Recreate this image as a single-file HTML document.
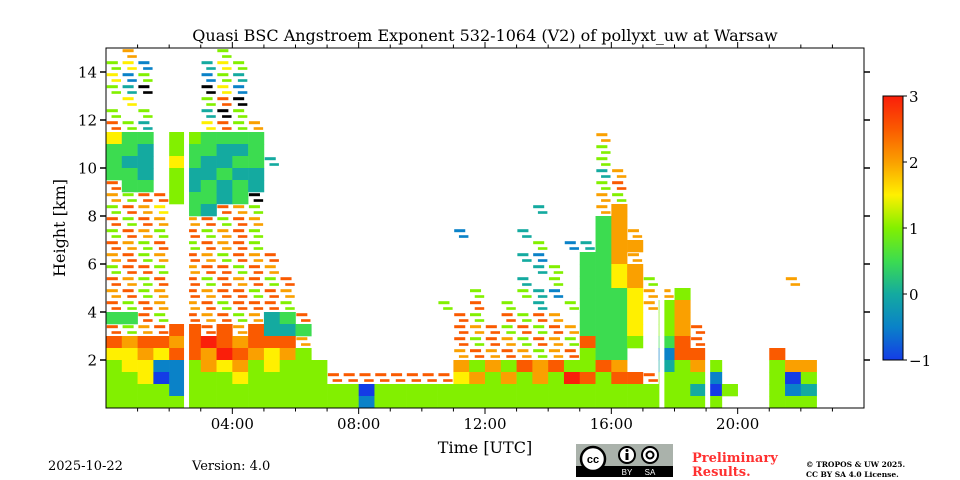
<!DOCTYPE html>
<html><head><meta charset="utf-8"><style>
body{margin:0;background:#fff;width:960px;height:480px;overflow:hidden}
svg{display:block}
text{font-family:"DejaVu Serif","Liberation Serif",serif;fill:#000}
</style></head><body>
<svg id="chart" width="960" height="480" viewBox="0 0 960 480">
<defs>
<linearGradient id="cmap" x1="0" y1="1" x2="0" y2="0">
<stop offset="0" stop-color="#143ce6"/><stop offset="0.125" stop-color="#0a82c8"/>
<stop offset="0.25" stop-color="#14aaa0"/><stop offset="0.375" stop-color="#3cdc50"/>
<stop offset="0.5" stop-color="#82f000"/><stop offset="0.625" stop-color="#fff000"/>
<stop offset="0.75" stop-color="#faa000"/><stop offset="0.875" stop-color="#fa5a00"/>
<stop offset="1" stop-color="#fa1e0a"/>
</linearGradient>
</defs>
<text x="485" y="41" font-size="16" text-anchor="middle">Quasi BSC Angstroem Exponent 532-1064 (V2) of pollyxt_uw at Warsaw</text>
<g id="cells"></g>
<g id="axes"></g>
<rect x="106" y="48" width="758" height="360" fill="none" stroke="#000" stroke-width="1"/>
<text x="485" y="453" font-size="16" text-anchor="middle">Time [UTC]</text>
<text x="0" y="0" font-size="16" text-anchor="middle" transform="translate(65,228) rotate(-90)">Height [km]</text>
<rect x="883" y="96" width="20" height="264" fill="url(#cmap)" stroke="#000" stroke-width="1"/>
<g id="cbticks"></g>
<text x="48" y="470" font-size="13">2025-10-22</text>
<text x="192" y="470" font-size="13">Version: 4.0</text>
<g>
<rect x="576" y="444" width="97" height="33" fill="#aab2ab"/>
<rect x="576" y="466" width="97" height="11" fill="#000"/>
<circle cx="593" cy="459" r="12" fill="#fff" stroke="#000" stroke-width="2.5"/>
<text x="593" y="463" font-size="11" font-weight="bold" text-anchor="middle" style="font-family:'Liberation Sans',sans-serif">cc</text>
<circle cx="627" cy="455" r="8" fill="#fff" stroke="#000" stroke-width="2"/>
<rect x="625.5" y="453" width="3" height="7" fill="#000"/><circle cx="627" cy="450.5" r="1.5" fill="#000"/>
<circle cx="650" cy="455" r="8" fill="#fff" stroke="#000" stroke-width="2"/>
<circle cx="650" cy="455" r="3.5" fill="none" stroke="#000" stroke-width="2"/>
<text x="627" y="475" font-size="8" fill="#fff" text-anchor="middle" style="fill:#fff;font-family:'Liberation Sans',sans-serif">BY</text>
<text x="650" y="475" font-size="8" text-anchor="middle" style="fill:#fff;font-family:'Liberation Sans',sans-serif">SA</text>
</g>
<text x="692" y="462" font-size="13" font-weight="bold" style="fill:#ff3030">Preliminary</text>
<text x="692" y="476" font-size="13" font-weight="bold" style="fill:#ff3030">Results.</text>
<text x="806" y="467" font-size="7.5" font-weight="bold">© TROPOS &amp; UW 2025.</text>
<text x="806" y="477" font-size="7.5" font-weight="bold">CC BY SA 4.0 License.</text>
</svg>
<script>
// grid: rows from top (14.5-15 km) to bottom (0-0.5 km); columns 0.5 h each from 00:00
const timeStep = 0.5;
const heightStep = 0.5;
const rows = [
".G...|..E..|.....|.....|.....|.....|.....|.....|.....",
"EFB..|.CFE.|.....|.....|.....|.....|.....|.....|.....",
"FBE..|.BEC.|.....|.....|.....|.....|.....|.....|.....",
"ECZ..|.ZFB.|.....|.....|.....|.....|.....|.....|.....",
".F...|.EHZ.|.....|.....|.....|.....|.....|.....|.....",
"E.E..|.CZE.|.....|.....|.....|.....|.....|.....|.....",
"HEC..|.FHEG|.....|.....|.....|.....|.....|.....|.....",
"fdd.e|edddd|.....|.....|.....|.....|.G...|.....|.....",
"ddc.e|ddccd|.....|.....|.....|.....|.E...|.....|.....",
"dcc.f|dccdd|C....|.....|.....|.....|.E...|.....|.....",
"ddc.e|ccdcc|.....|.....|.....|.....|.CG..|.....|.....",
"Hdd.e|cdcdc|.....|.....|.....|.....|.EH..|.....|.....",
"GEHHe|ddcdZ|.....|.....|.....|.....|.GE..|.....|.....",
"EHGF.|dcHGE|.....|.....|.....|..C..|.Gg..|.....|.....",
"HEHG.|GHEHG|.....|.....|.....|.....|.dg..|.....|.....",
"EHGE.|HEGHE|.....|.....|..B..|.C...|.dgG.|.....|.....",
"HGEH.|EHGHE|.....|.....|.....|..E.B|Cdgg.|.....|.....",
"GHEG.|HGEHG|H....|.....|.....|.CB..|ddgG.|.....|.....",
"EHHE.|GHHEH|G....|.....|.....|..CE.|ddfg.|.....|.....",
"HGEH.|HEHGH|EH...|.....|.....|.C.E.|ddfgE|.....|...G.",
"GHEG.|HGHHE|HG...|.....|...E.|.ECB.|dddfG|Ge...|.....",
"HEHG.|GHEHH|HE...|.....|.E.H.|E.C.E|dddfG|eg...|.....",
"ddHE.|HGHEG|cdH..|.....|..HE.|HEHG.|dddf.|eg...|.....",
"HEGHh|hHhGh|ccd..|.....|..HGH|EHEHG|dddf.|egH..|.....",
"hghhg|hihgh|hhG..|.....|..HEH|GEHGE|hdde.|dhH..|.....",
"ffgfh|hgihg|fge..|.....|..GHG|HGEGH|edd..|bhh..|..h..",
"effbb|egfge|feee.|.....|..geg|ehghe|ehg..|cege.|..egg",
"eefab|eeefe|eeeeH|HHHHH|HHfge|gegei|hehhH|eeeb.|..eae",
"eeeeb|eeeee|eeeee|eaeee|eeeee|eeeee|eeeee|eecae|..ebc",
"eeeee|eeeee|eeeee|ebeee|eeeee|eeeee|eeeee|eeee.|..eee"
];
const levelChars = ["z","a","b","c","d","e","f","g","h","i"];
const levelValues = [-1.5,-1,-0.5,0,0.5,1,1.5,2,2.5,3];
const gapTimes = [2.55, 17.6, 19.05];
const xTickHours = [4,8,12,16,20];
const xTickLabels = ["04:00","08:00","12:00","16:00","20:00"];
const yTicks = [2,4,6,8,10,12,14];
const cbTicks = [-1,0,1,2,3];

const NS="http://www.w3.org/2000/svg";
const X0=106,X1=864,Y0=408,Y1=48;
const xs=h=>X0+h/24*(X1-X0);
const ys=k=>Y0-k/15*(Y0-Y1);
const stops=[[-1,[20,60,230]],[-0.5,[10,130,200]],[0,[20,170,160]],[0.5,[60,220,80]],[1,[130,240,0]],[1.5,[255,240,0]],[2,[250,160,0]],[2.5,[250,90,0]],[3,[250,30,10]]];
function color(v){
  if(v<-1.2) return "#000";
  if(v<=-1) return "rgb(20,60,230)";
  for(let i=1;i<stops.length;i++){ if(v<=stops[i][0]){const a=stops[i-1],b=stops[i],t=(v-a[0])/(b[0]-a[0]);
    return "rgb("+a[1].map((c,j)=>Math.round(c+(b[1][j]-c)*t)).join(",")+")";}}
  return "rgb(250,30,10)";
}
function mk(tag,attrs,parent){const e=document.createElementNS(NS,tag);for(const k in attrs)e.setAttribute(k,attrs[k]);parent.appendChild(e);return e;}
const cells=document.getElementById("cells");
const nR=rows.length;
rows.forEach((row,ri)=>{
  const s=row.replace(/\|/g,"");
  const hLow=(nR-1-ri)*heightStep;
  for(let ci=0;ci<s.length;ci++){
    const ch=s[ci]; if(ch===".")continue;
    const lc=ch.toLowerCase(); const idx=levelChars.indexOf(lc); if(idx<0)continue;
    const v=levelValues[idx];
    const x=xs(ci*timeStep), w=xs((ci+1)*timeStep)-x;
    const yTop=ys(hLow+heightStep), hgt=ys(hLow)-yTop;
    if(ch===lc){
      const r=mk("rect",{x:x.toFixed(2),y:yTop.toFixed(2),width:(w+0.3).toFixed(2),height:(hgt+0.3).toFixed(2),fill:color(v)},cells);
      
      
    } else {
      const r1=mk("rect",{x:(x+w*0.05).toFixed(2),y:(yTop+hgt*0.1).toFixed(2),width:(w*0.7).toFixed(2),height:(hgt*0.25).toFixed(2),fill:color(v)},cells);
      
      
      const r2=mk("rect",{x:(x+w*0.35).toFixed(2),y:(yTop+hgt*0.6).toFixed(2),width:(w*0.6).toFixed(2),height:(hgt*0.22).toFixed(2),fill:color(v)},cells);
      
      
    }
  }
});
gapTimes.forEach(t=>{
  const g=mk("rect",{x:(xs(t)-2.5).toFixed(2),y:Y1,width:5,height:Y0-Y1,fill:"#fff"},cells);
  
  
});
const axes=document.getElementById("axes");
for(let h=1;h<24;h++){
  const major=h%4===0, L=major?6:3.5, x=xs(h);
  mk("line",{x1:x,y1:Y0,x2:x,y2:Y0+L,stroke:"#000","stroke-width":1},axes);
  mk("line",{x1:x,y1:Y1,x2:x,y2:Y1-L,stroke:"#000","stroke-width":1},axes);
}
xTickHours.forEach((h,i)=>{
  const t=mk("text",{x:xs(h),y:Y0+21,"font-size":15,"text-anchor":"middle"},axes);
  t.textContent=xTickLabels[i];
  
  
});
yTicks.forEach(k=>{
  const y=ys(k);
  mk("line",{x1:X0-6,y1:y,x2:X0,y2:y,stroke:"#000","stroke-width":1.5},axes);
  mk("line",{x1:X1,y1:y,x2:X1+6,y2:y,stroke:"#000","stroke-width":1.5},axes);
  const t=mk("text",{x:X0-9,y:y+5.5,"font-size":15,"text-anchor":"end"},axes);
  t.textContent=String(k);
  
  
});
const cbg=document.getElementById("cbticks");
cbTicks.forEach(v=>{
  const y=360-(v+1)/4*264;
  mk("line",{x1:903,y1:y,x2:907,y2:y,stroke:"#000","stroke-width":1},cbg);
  const t=mk("text",{x:909,y:y+6,"font-size":15},cbg);
  t.textContent=v<0?"\u2212"+Math.abs(v):String(v);
  
  
});
</script>
</body></html>
